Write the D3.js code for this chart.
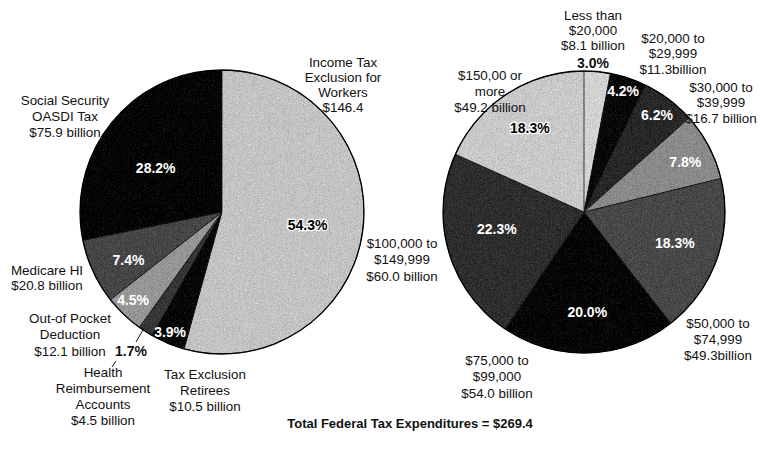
<!DOCTYPE html>
<html>
<head>
<meta charset="utf-8">
<script src="https://cdn.jsdelivr.net/npm/d3@7"></script>
<style>
  html, body { margin: 0; padding: 0; background: #fff; }
  svg { display: block; font-family: "Liberation Sans", Arial, sans-serif; }
</style>
</head>
<body>
<svg id="chart" width="760" height="460"></svg>
<script>
// ---------- DATA ----------
const leftCategories = [
  "Income Tax Exclusion for Workers",
  "Tax Exclusion Retirees",
  "Health Reimbursement Accounts",
  "Out-of Pocket Deduction",
  "Medicare HI",
  "Social Security OASDI Tax"
];
const leftPercents = [54.3, 3.9, 1.7, 4.5, 7.4, 28.2];
const leftAmounts = ["$146.4", "$10.5 billion", "$4.5 billion", "$12.1 billion", "$20.8 billion", "$75.9 billion"];

const rightCategories = [
  "Less than $20,000",
  "$20,000 to $29,999",
  "$30,000 to $39,999",
  "$40,000 to $49,999",
  "$50,000 to $74,999",
  "$75,000 to $99,000",
  "$100,000 to $149,999",
  "$150,00 or more"
];
const rightPercents = [3.0, 4.2, 6.2, 7.8, 18.3, 20.0, 22.3, 18.3];
const rightAmounts = ["$8.1 billion", "$11.3billion", "$16.7 billion", "", "$49.3billion", "$54.0 billion", "$60.0 billion", "$49.2 billion"];

const totalTitle = "Total Federal Tax Expenditures = $269.4";

// ---------- STYLE ----------
const leftColors  = ["#c3c3c3", "#060606", "#363636", "#969696", "#464646", "#040404"];
const rightColors = ["#d2d2d2", "#080808", "#282828", "#8a8a8a", "#484848", "#050505", "#2e2e2e", "#c9c9c9"];
const leftPctColor  = ["#000", "#fff", "#000", "#fff", "#fff", "#fff"];
const rightPctColor = ["#000", "#fff", "#fff", "#fff", "#fff", "#fff", "#fff", "#000"];

const svg = d3.select("#chart");

// grain filter to mimic the stippled print texture
const defs = svg.append("defs");
const f = defs.append("filter").attr("id", "grain")
  .attr("x", 0).attr("y", 0).attr("width", 1).attr("height", 1)
  .attr("color-interpolation-filters", "sRGB");
f.append("feTurbulence").attr("type", "fractalNoise").attr("baseFrequency", 1.2).attr("numOctaves", 2).attr("seed", 3).attr("result", "noise");
f.append("feColorMatrix").attr("in", "noise").attr("type", "matrix")
  .attr("values", "0.33 0.33 0.33 0 0  0.33 0.33 0.33 0 0  0.33 0.33 0.33 0 0  0 0 0 0 1")
  .attr("result", "gnoise");
f.append("feComposite").attr("in", "SourceGraphic").attr("in2", "gnoise").attr("operator", "arithmetic")
  .attr("k1", 0).attr("k2", 1).attr("k3", 0.5).attr("k4", -0.25).attr("result", "mix");
f.append("feComposite").attr("in", "mix").attr("in2", "SourceGraphic").attr("operator", "in");

const pie = d3.pie().sort(null).value(d => d);

function drawPie(cx, cy, r, values, colors, pctColors, pctPos) {
  const g = svg.append("g").attr("transform", `translate(${cx},${cy})`);
  const arcs = pie(values);
  const arc = d3.arc().innerRadius(0).outerRadius(r);
  g.selectAll("path.slice").data(arcs).join("path")
    .attr("class", "slice")
    .attr("d", arc)
    .attr("fill", (d, i) => colors[i])
    .attr("filter", "url(#grain)")
    .attr("stroke", "#111")
    .attr("stroke-width", 0.8);
  g.append("circle").attr("r", r).attr("fill", "none").attr("stroke", "#000").attr("stroke-width", 1.3);
  // percent labels inside, placed at a fraction of the radius along the slice mid-angle
  arcs.forEach((d, i) => {
    const p = pctPos[i];
    if (!p) return;
    const a = (d.startAngle + d.endAngle) / 2 + (p.da || 0);
    const x = Math.sin(a) * r * p.k, y = -Math.cos(a) * r * p.k;
    const t = g.append("text")
      .attr("x", x).attr("y", y)
      .attr("text-anchor", "middle").attr("dominant-baseline", "central")
      .attr("font-size", 14).attr("font-weight", "bold")
      .attr("fill", pctColors[i])
      .text(values[i].toFixed(1) + "%");
    if (pctColors[i] === "#000") t.attr("stroke", "#fff").attr("stroke-width", 2.5).attr("paint-order", "stroke");
  });
  return g;
}

function label(lines, x, y, opts = {}) {
  const t = svg.append("text")
    .attr("text-anchor", "middle")
    .attr("font-size", opts.size || 13.4)
    .attr("font-weight", opts.bold ? "bold" : "normal")
    .attr("fill", "#111");
  lines.forEach((ln, i) => {
    t.append("tspan").attr("x", x).attr("y", y + i * (opts.lh || 16)).attr("dominant-baseline", "central").text(ln);
  });
  return t;
}

// ---------- LEFT PIE ----------
const L = { cx: 222, cy: 212, r: 142 };
drawPie(L.cx, L.cy, L.r, leftPercents, leftColors, leftPctColor, [
  { k: 0.61, da: 0.015 },
  { k: 0.92, da: 0.016 },
  null,
  { k: 0.88, da: 0.028 },
  { k: 0.74, da: -0.04 },
  { k: 0.56, da: -0.1 }
]);

label(["Income Tax", "Exclusion for", "Workers", leftAmounts[0]], 343, 62, { lh: 15.2 });
label(["Tax Exclusion", "Retirees", leftAmounts[1]], 205, 374, { lh: 16.3 });
label(["Health", "Reimbursement", "Accounts", leftAmounts[2]], 103, 372, { lh: 16.2 });
label(["Out-of Pocket", "Deduction", leftAmounts[3]], 70, 318, { lh: 16.5 });
label(["Medicare HI", leftAmounts[4]], 47, 270, { lh: 15.5 });
label(["Social Security", "OASDI Tax", leftAmounts[5]], 65, 100, { lh: 16 });
// 1.7% callout
label([leftPercents[2].toFixed(1) + "%"], 131, 351, { size: 14, bold: true });
svg.append("line").attr("x1", 144).attr("y1", 328).attr("x2", 136).attr("y2", 342).attr("stroke", "#111").attr("stroke-width", 1);
svg.append("line").attr("x1", 116).attr("y1", 361).attr("x2", 112).attr("y2", 367).attr("stroke", "#111").attr("stroke-width", 1);

// ---------- RIGHT PIE ----------
const R = { cx: 584, cy: 212, r: 141 };
drawPie(R.cx, R.cy, R.r, rightPercents, rightColors, rightPctColor, [
  null,
  { k: 0.9, da: -0.007 },
  { k: 0.86, da: 0 },
  { k: 0.8, da: 0.03 },
  { k: 0.68, da: -0.01 },
  { k: 0.71, da: 0.002 },
  { k: 0.63, da: 0.082 },
  { k: 0.71, da: 0.003 }
]);

label([rightPercents[0].toFixed(1) + "%"], 593, 63, { size: 14, bold: true });
label(["Less than", "$20,000", rightAmounts[0]], 593, 15, { lh: 15.2 });
label(["$20,000 to", "$29,999", rightAmounts[1]], 673, 38, { lh: 15.5 });
label(["$30,000 to", "$39,999", rightAmounts[2]], 721, 87, { lh: 15.5 });
label(["$50,000 to", "$74,999", rightAmounts[4]], 718, 323, { lh: 16.3 });
label(["$75,000 to", "$99,000", rightAmounts[5]], 497, 360, { lh: 16.5 });
label(["$100,000 to", "$149,999", rightAmounts[6]], 402, 243, { lh: 16.5 });
label(["$150,00 or", "more", rightAmounts[7]], 490, 75, { lh: 16 });

// ---------- TITLE ----------
svg.append("text")
  .attr("x", 410).attr("y", 423)
  .attr("text-anchor", "middle").attr("dominant-baseline", "central")
  .attr("font-size", 13).attr("font-weight", "bold").attr("fill", "#111")
  .text(totalTitle);
</script>
</body>
</html>
